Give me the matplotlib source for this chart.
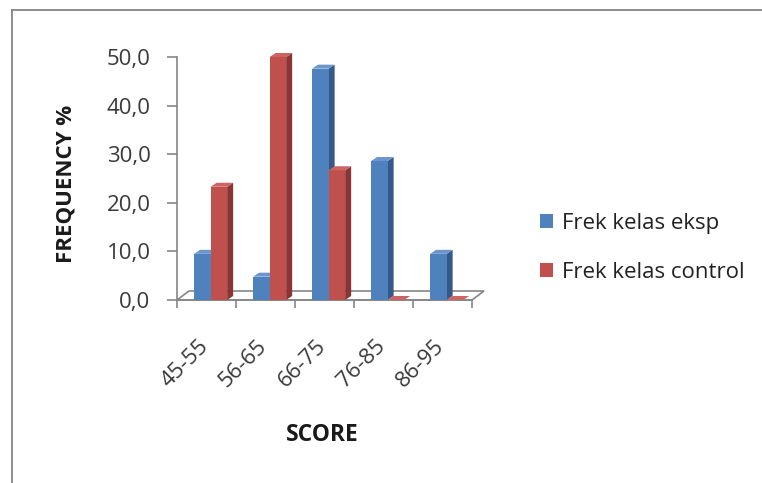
import matplotlib
matplotlib.use("Agg")
import matplotlib.pyplot as plt
from matplotlib.patches import Polygon
from matplotlib.lines import Line2D

plt.rcParams['font.family'] = ['Open Sans', 'DejaVu Sans']

categories = ["45-55", "56-65", "66-75", "76-85", "86-95"]
freq_eksp = [9.5, 4.8, 47.6, 28.6, 9.5]
freq_control = [23.3, 50.0, 26.7, 0.0, 0.0]
y_ticks = [0, 10, 20, 30, 40, 50]
y_tick_labels = ["0,0", "10,0", "20,0", "30,0", "40,0", "50,0"]
series_names = ["Frek kelas eksp", "Frek kelas control"]

W, H, DPI = 762, 483, 100
fig = plt.figure(figsize=(W / DPI, H / DPI), dpi=DPI)
fig.patch.set_facecolor("white")

# outer chart border (left and top)
border = "#8c8c8c"
fig.add_artist(Line2D([12 / W, 12 / W], [0, 1 - 10 / H], color=border, lw=1.4))
fig.add_artist(Line2D([12 / W, 1], [1 - 10 / H, 1 - 10 / H], color=border, lw=1.4))

# plot area in pixels
x0px, x1px, y0px, y1px = 177, 472, 300, 57
ax = fig.add_axes([x0px / W, 1 - y0px / H, (x1px - x0px) / W, (y0px - y1px) / H])
ax.set_xlim(0, len(categories))
ax.set_ylim(0, 50)
ax.patch.set_visible(False)

px_x = (x1px - x0px) / len(categories)   # pixels per category
px_y = (y0px - y1px) / 50.0              # pixels per unit

# floor depth and bar depth (in data units)
fdx, fdy = 12 / px_x, 9 / px_y
bdx, bdy = 6 / px_x, 4 / px_y

axis_col = "#868686"
floor = Polygon([(0, 0), (len(categories), 0),
                 (len(categories) + fdx, fdy), (fdx, fdy)],
                closed=True, facecolor="white", edgecolor=axis_col,
                lw=1.2, clip_on=False, zorder=1)
ax.add_patch(floor)

styles = [
    dict(front="#4F81BD", side="#35598A", top="#6A96CC"),
    dict(front="#C0504D", side="#8A3533", top="#CD6461"),
]
width = 0.28
offsets = [0.29, 0.57]

for s, (vals, st, off) in enumerate(zip([freq_eksp, freq_control], styles, offsets)):
    xs = [i + off + width / 2 for i in range(len(categories))]
    bars = ax.bar(xs, vals, width=width, color=st["front"], edgecolor="none",
                  clip_on=False, zorder=3 + 2 * s, label=series_names[s])
    for b, v in zip(bars, vals):
        xl = b.get_x()
        xr = xl + b.get_width()
        side = Polygon([(xr, 0), (xr + bdx, bdy), (xr + bdx, v + bdy), (xr, v)],
                       closed=True, facecolor=st["side"], edgecolor="none",
                       clip_on=False, zorder=2 + 2 * s)
        top = Polygon([(xl, v), (xl + bdx, v + bdy), (xr + bdx, v + bdy), (xr, v)],
                      closed=True, facecolor=st["top"], edgecolor="none",
                      clip_on=False, zorder=3 + 2 * s)
        ax.add_patch(side)
        ax.add_patch(top)

# axes styling
for sp in ["top", "right"]:
    ax.spines[sp].set_visible(False)
ax.spines["left"].set_color(axis_col)
ax.spines["bottom"].set_color(axis_col)
ax.spines["left"].set_linewidth(1.2)
ax.spines["bottom"].set_linewidth(1.2)
ax.spines["left"].set_zorder(8)
ax.spines["bottom"].set_zorder(1.5)

label_size = 16
ax.set_yticks(y_ticks)
ax.set_yticklabels(y_tick_labels)
ax.tick_params(axis="y", direction="out", length=7, width=1.2, color=axis_col,
               pad=12, labelsize=label_size, labelcolor="#3a3a3a")

ax.set_xticks(range(len(categories) + 1))
ax.set_xticklabels([""] * (len(categories) + 1))
ax.tick_params(axis="x", which="major", direction="out", length=6, width=1.2,
               color=axis_col)
ax.set_xticks([i + 0.6 for i in range(len(categories))], minor=True)
ax.set_xticklabels(categories, minor=True, rotation=45, ha="right",
                   rotation_mode="default")
ax.tick_params(axis="x", which="minor", length=0, pad=26, labelsize=label_size,
               labelcolor="#3a3a3a")

fig.text(66 / W, 1 - 184 / H, "FREQUENCY %", rotation=90, ha="center", va="center",
         fontsize=16, fontweight="bold", color="#1a1a1a")
fig.text(322 / W, 1 - 435 / H, "SCORE", ha="center", va="center",
         fontsize=16.5, fontweight="bold", color="#1a1a1a")

handles, labels = ax.get_legend_handles_labels()
fig.legend(handles, labels, loc="center left",
           bbox_to_anchor=(520 / W, 1 - 248 / H), frameon=False,
           fontsize=label_size, handlelength=0.6, handleheight=0.6,
           handletextpad=0.4, labelspacing=1.25, labelcolor="#222222")

fig.savefig("out.png", dpi=DPI)
